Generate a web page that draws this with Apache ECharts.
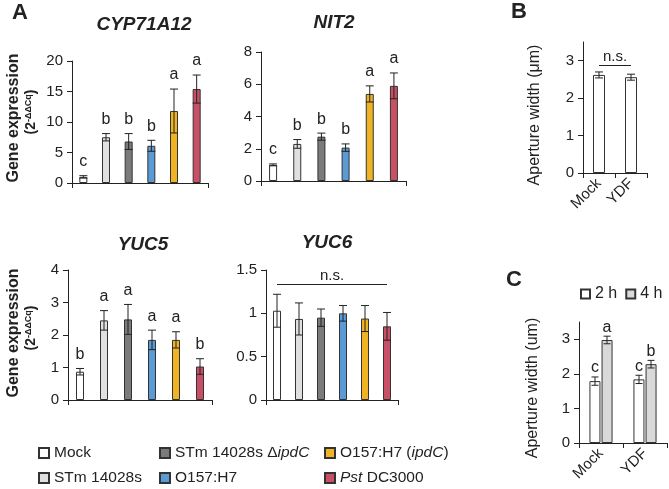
<!DOCTYPE html>
<html>
<head>
<meta charset="utf-8">
<script src="https://cdn.jsdelivr.net/npm/echarts@6/dist/echarts.min.js"></script>
<style>
html, body { margin: 0; padding: 0; background: #fff; }
#chart { width: 669px; height: 489px; }
</style>
</head>
<body>
<div id="chart"></div>
<script>
// panel A: treatments and per-gene expression (mean, error, letter)
const conditions = ['Mock', 'STm 14028s', 'STm 14028s ΔipdC', 'O157:H7', 'O157:H7 (ipdC)', 'Pst DC3000'];
const condColors = ['#ffffff', '#e0e0e0', '#7b7b7b', '#5b9bd5', '#f0b323', '#c94f66'];

const cypMean = [1.0, 7.5, 6.8, 6.1, 11.8, 15.4];
const cypErr = [0.2, 0.6, 1.3, 0.9, 3.6, 2.3];
const cypLetters = ['c', 'b', 'b', 'b', 'a', 'a'];

const nitMean = [1.0, 2.3, 2.75, 2.07, 5.4, 5.9];
const nitErr = [0.06, 0.27, 0.22, 0.23, 0.5, 0.8];
const nitLetters = ['c', 'b', 'b', 'b', 'a', 'a'];

const yuc5Mean = [0.87, 2.45, 2.48, 1.85, 1.85, 1.03];
const yuc5Err = [0.1, 0.3, 0.46, 0.3, 0.25, 0.24];
const yuc5Letters = ['b', 'a', 'a', 'a', 'a', 'b'];

const yuc6Mean = [1.03, 0.935, 0.95, 1.0, 0.94, 0.85];
const yuc6Err = [0.19, 0.185, 0.1, 0.09, 0.15, 0.16];

// panel B
const stomaCats = ['Mock', 'YDF'];
const apertureMean = [2.62, 2.56];
const apertureErr = [0.08, 0.08];

// panel C
const timeNames = ['2 h', '4 h'];
const c2hMean = [1.79, 1.84];
const c2hErr = [0.12, 0.12];
const c2hLetters = ['c', 'c'];
const c4hMean = [2.98, 2.28];
const c4hErr = [0.11, 0.11];
const c4hLetters = ['a', 'b'];

const FONT = 'Liberation Sans, Arial, sans-serif';
const INK = '#222';

let chart = echarts.init(document.getElementById('chart'));

function grid(left, top, width, height) {
  return { left: left, top: top, width: width, height: height, outerBoundsMode: 'none' };
}

function catAxis(g, cats, showLabel) {
  return {
    type: 'category', gridIndex: g, data: cats,
    axisLine: { lineStyle: { color: INK } },
    axisTick: { show: true, length: 5, lineStyle: { color: INK } },
    axisLabel: showLabel
      ? { show: true, rotate: 45, fontSize: 15, color: INK, fontFamily: FONT, margin: 8 }
      : { show: false }
  };
}

function valAxis(g, max, interval, ticks) {
  const ax = {
    type: 'value', gridIndex: g, min: 0, max: max, interval: interval,
    axisLine: { show: true, lineStyle: { color: INK } },
    axisTick: { show: true, length: 5, lineStyle: { color: INK } },
    splitLine: { show: false },
    axisLabel: { fontSize: 15, color: INK, fontFamily: FONT, margin: 9 }
  };
  if (ticks) {
    ax.axisTick.customValues = ticks;
    ax.axisLabel.customValues = ticks;
  }
  return ax;
}

// error bars (+ letters) drawn as custom series
function errorSeries(g, means, errs, letters, capW, letterGap, offset) {
  return {
    type: 'custom', xAxisIndex: g, yAxisIndex: g, z: 10, silent: true,
    data: means.map((m, i) => [i, m, errs[i]]),
    renderItem: function (params, api) {
      const i = api.value(0);
      const x = api.coord([i, 0])[0] + (offset || 0);
      const yHi = api.coord([i, api.value(1) + api.value(2)])[1];
      const yLo = api.coord([i, api.value(1) - api.value(2)])[1];
      const st = { stroke: INK, lineWidth: 1 };
      const children = [
        { type: 'line', shape: { x1: x, y1: yHi, x2: x, y2: yLo }, style: st },
        { type: 'line', shape: { x1: x - capW / 2, y1: yHi, x2: x + capW / 2, y2: yHi }, style: st },
        { type: 'line', shape: { x1: x - capW / 2, y1: yLo, x2: x + capW / 2, y2: yLo }, style: st }
      ];
      if (letters) {
        children.push({
          type: 'text', x: x, y: yHi - letterGap,
          style: { text: letters[params.dataIndex], fill: INK, font: '16px ' + FONT, align: 'center', verticalAlign: 'bottom' }
        });
      }
      return { type: 'group', children: children };
    }
  };
}

const series = [];
const geneSets = [
  [cypMean, cypErr, cypLetters],
  [nitMean, nitErr, nitLetters],
  [yuc5Mean, yuc5Err, yuc5Letters],
  [yuc6Mean, yuc6Err, null]
];
geneSets.forEach((set, g) => {
  conditions.forEach((name, k) => {
    series.push({
      type: 'bar', name: name, xAxisIndex: g, yAxisIndex: g,
      barWidth: 8, barGap: '-100%',
      data: set[0].map((v, i) => (i === k ? v : '-')),
      itemStyle: { color: condColors[k], borderColor: '#333', borderWidth: 1 }
    });
  });
  series.push(errorSeries(g, set[0], set[1], set[2], 8, 6, 0));
});

const nsLabel = { show: true, position: 'insideMiddleTop', formatter: 'n.s.', fontSize: 15, color: INK, fontFamily: FONT, distance: 1 };
// n.s. bracket on YUC6
series.push({
  type: 'line', xAxisIndex: 3, yAxisIndex: 3, data: [], silent: true,
  markLine: {
    symbol: 'none', silent: true,
    lineStyle: { color: INK, width: 1, type: 'solid' },
    label: nsLabel,
    data: [[{ coord: [0, 1.33] }, { coord: [5, 1.33] }]]
  }
});

// panel B
series.push({
  type: 'bar', name: 'aperture', xAxisIndex: 4, yAxisIndex: 4, barWidth: 12,
  data: apertureMean,
  itemStyle: { color: '#fff', borderColor: '#333', borderWidth: 1 },
  markLine: {
    symbol: 'none', silent: true,
    lineStyle: { color: INK, width: 1, type: 'solid' },
    label: nsLabel,
    data: [[{ coord: [0, 2.87] }, { coord: [1, 2.87] }]]
  }
});
series.push(errorSeries(4, apertureMean, apertureErr, null, 8, 0, 0));

// panel C
series.push({
  type: 'bar', name: timeNames[0], xAxisIndex: 5, yAxisIndex: 5, barWidth: 11, barGap: '10%',
  data: c2hMean, itemStyle: { color: '#fff', borderColor: '#333', borderWidth: 1 }
});
series.push({
  type: 'bar', name: timeNames[1], xAxisIndex: 5, yAxisIndex: 5, barWidth: 11, barGap: '10%',
  data: c4hMean, itemStyle: { color: '#d9d9d9', borderColor: '#333', borderWidth: 1 }
});
series.push(errorSeries(5, c2hMean, c2hErr, c2hLetters, 7, 1, -6));
series.push(errorSeries(5, c4hMean, c4hErr, c4hLetters, 7, 1, 6));

const legendText = { fontSize: 15.5, color: INK, fontFamily: FONT,
  rich: { i: { fontSize: 15.5, fontStyle: 'italic', color: INK, fontFamily: FONT } } };
function legendFmt(name) {
  return name.replace('ipdC', '{i|ipdC}').replace('Pst', '{i|Pst}');
}
// one legend per treatment, laid out in 3 columns x 2 rows
const legendCols = [38, 159, 324];
const legendRows = [445, 470];
const legends = conditions.map((name, k) => ({
  data: [name], left: legendCols[Math.floor(k / 2)], top: legendRows[k % 2],
  padding: 0, itemWidth: 10, itemHeight: 10, selectedMode: false, icon: 'rect',
  textStyle: legendText, formatter: legendFmt
}));
legends.push({
  data: timeNames, orient: 'horizontal', left: 580, top: 286, padding: 0,
  itemWidth: 9, itemHeight: 9, itemGap: 8, selectedMode: false, icon: 'rect',
  textStyle: { fontSize: 16, color: INK, fontFamily: FONT }
});

function vtext(x, y, text, font, rich) {
  return {
    type: 'text', x: x, y: y, rotation: Math.PI / 2,
    style: { text: text, font: font, fill: INK, align: 'center', verticalAlign: 'middle', rich: rich }
  };
}
function htext(x, y, text, font) {
  return { type: 'text', x: x, y: y, style: { text: text, font: font, fill: INK, align: 'center', verticalAlign: 'middle' } };
}
const supRich = {
  b: { fontSize: 14, fontWeight: 'bold', fontFamily: FONT, color: INK },
  s: { fontSize: 9, fontWeight: 'bold', fontFamily: FONT, color: INK, verticalAlign: 'top' }
};

const option = {
  animation: false,
  textStyle: { fontFamily: FONT },
  grid: [
    grid(72, 61, 136, 122),
    grid(261, 52, 145, 129),
    grid(68, 270, 144, 130),
    grid(266, 270, 132, 130),
    grid(583, 42, 64, 131),
    grid(579, 322, 88, 121)
  ],
  xAxis: [
    catAxis(0, conditions, false),
    catAxis(1, conditions, false),
    catAxis(2, conditions, false),
    catAxis(3, conditions, false),
    catAxis(4, stomaCats, true),
    catAxis(5, stomaCats, true)
  ],
  yAxis: [
    valAxis(0, 20, 5),
    valAxis(1, 8, 2),
    valAxis(2, 4, 1),
    valAxis(3, 1.5, 0.5),
    valAxis(4, 3.5, 1, [0, 1, 2, 3]),
    valAxis(5, 3.5, 1, [0, 1, 2, 3])
  ],
  legend: legends,
  graphic: [
    htext(20, 13, 'A', 'bold 22px ' + FONT),
    htext(519, 12, 'B', 'bold 22px ' + FONT),
    htext(514, 280, 'C', 'bold 22px ' + FONT),
    htext(144, 25, 'CYP71A12', 'italic bold 19px ' + FONT),
    htext(334, 23, 'NIT2', 'italic bold 19px ' + FONT),
    htext(143, 245, 'YUC5', 'italic bold 19px ' + FONT),
    htext(327, 243, 'YUC6', 'italic bold 19px ' + FONT),
    vtext(14, 118, 'Gene expression', 'bold 16px ' + FONT),
    vtext(31, 112, '{b|(2}{s|-ΔΔCq}{b|)}', 'bold 14px ' + FONT, supRich),
    vtext(14, 333, 'Gene expression', 'bold 16px ' + FONT),
    vtext(31, 328, '{b|(2}{s|-ΔΔCq}{b|)}', 'bold 14px ' + FONT, supRich),
    vtext(535, 115, 'Aperture width (μm)', '16px ' + FONT),
    vtext(533, 388, 'Aperture width (um)', '16px ' + FONT)
  ],
  series: series
};
chart.setOption(option);
</script>
</body>
</html>
